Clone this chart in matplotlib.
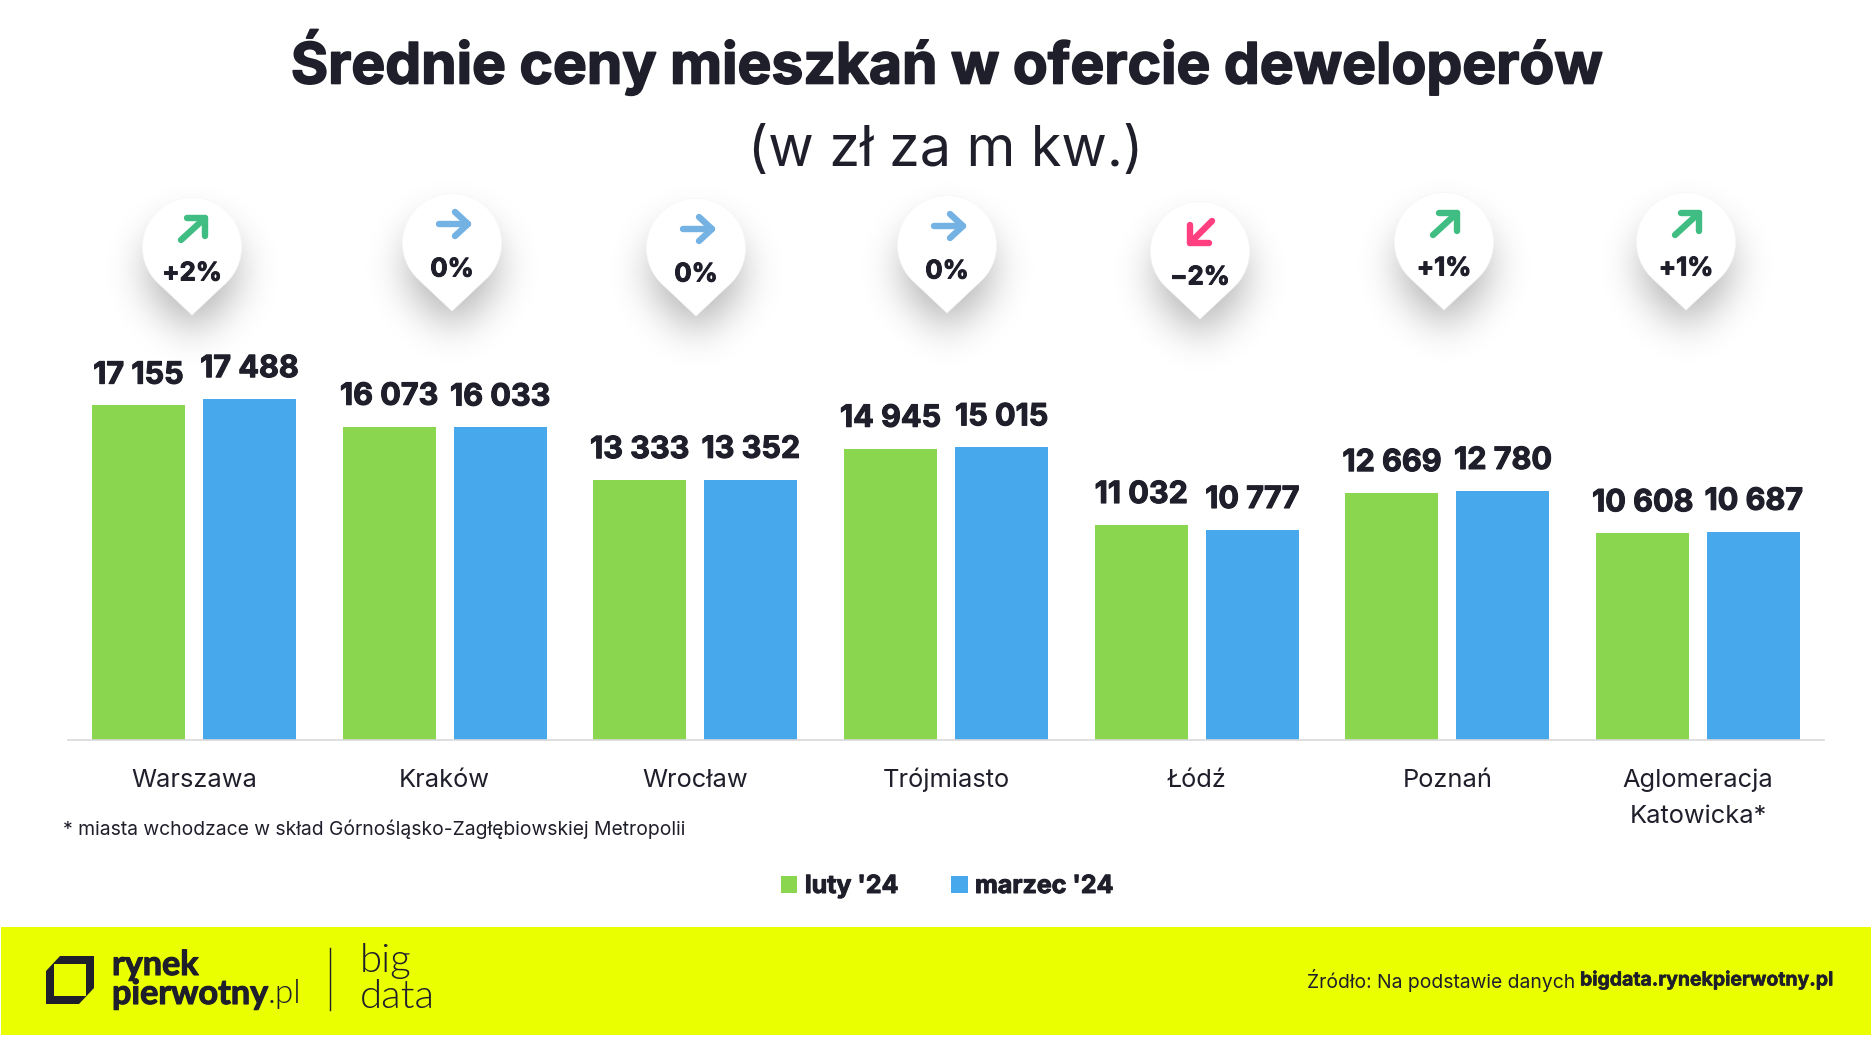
import numpy as np
import matplotlib
matplotlib.use("Agg")
import matplotlib.pyplot as plt
import matplotlib.patheffects as pe
from matplotlib.path import Path
from matplotlib.patches import PathPatch, Rectangle, Polygon
from matplotlib.transforms import ScaledTranslation

W, H = 1871, 1039
DARK = "#1F1F2B"
GREEN = "#8AD64E"
BLUE = "#47A9EC"
FONT = ["Inter", "DejaVu Sans"]
plt.rcParams["font.family"] = FONT

cities = ["Warszawa", "Kraków", "Wrocław", "Trójmiasto", "Łódź", "Poznań", "Aglomeracja\nKatowicka*"]
luty = [17155, 16073, 13333, 14945, 11032, 12669, 10608]
marzec = [17488, 16033, 13352, 15015, 10777, 12780, 10687]
changes = ["+2%", "0%", "0%", "0%", "−2%", "+1%", "+1%"]
directions = ["up", "flat", "flat", "flat", "down", "up", "up"]
series_names = ["luty '24", "marzec '24"]

pin_tips = [(192, 315), (452, 311), (696, 316), (947, 313), (1200, 319), (1444, 310), (1686, 310)]


def heavy(w):
    return [pe.withStroke(linewidth=w, foreground=DARK)]


fig = plt.figure(figsize=(W / 100, H / 100), dpi=100, facecolor="white")

bg = fig.add_axes([0, 0, 1, 1], zorder=0)
bg.axis("off")


def tear(tx, ty, r=49.5, d=68):
    a = np.arccos(r / d)
    th = np.linspace(np.pi / 2 + a, np.pi / 2 + 2 * np.pi - a, 90)
    xs = tx + r * np.cos(th)
    ys = ty - d + r * np.sin(th)
    return np.column_stack([np.r_[tx, xs, tx], np.r_[ty, ys, ty]])


def blur(img, s):
    k = np.exp(-0.5 * (np.arange(-3 * s, 3 * s + 1) / s) ** 2)
    k /= k.sum()
    img = np.apply_along_axis(lambda v: np.convolve(v, k, mode="same"), 0, img)
    return np.apply_along_axis(lambda v: np.convolve(v, k, mode="same"), 1, img)


for tx, ty in pin_tips:
    x0, x1, y0, y1 = tx - 130, tx + 130, ty - 170, ty + 90
    gx, gy = np.meshgrid(np.arange(x0, x1), np.arange(y0, y1))
    pts = np.column_stack([gx.ravel(), gy.ravel()])
    mask = Path(tear(tx, ty + 18, r=46, d=63)).contains_points(pts).reshape(gx.shape).astype(float)
    sh = blur(mask, 20) * 0.30
    rgba = np.zeros(sh.shape + (4,))
    rgba[..., 3] = sh
    bg.imshow(rgba, extent=(x0, x1, y1, y0), aspect="auto", zorder=1, interpolation="bilinear")
    bg.add_patch(Polygon(tear(tx, ty), closed=True, fc="white", ec="#F7F7F7", lw=0.5, zorder=2))

arrow_colors = {"up": "#3FBD82", "flat": "#74B2E4", "down": "#FF3F80"}
for (tx, ty), ch, dr in zip(pin_tips, changes, directions):
    cx, cy = tx + 1, ty - 87
    if dr == "up":
        shaft = [(cx - 12, cy + 12), (cx + 12, cy - 10)]
        head = [(cx - 6, cy - 10), (cx + 12, cy - 10), (cx + 12, cy + 8)]
    elif dr == "down":
        shaft = [(cx + 11, cy - 11), (cx - 11, cy + 11)]
        head = [(cx - 11, cy - 7), (cx - 11, cy + 11), (cx + 8, cy + 11)]
    else:
        shaft = [(cx - 14, cy), (cx + 15, cy)]
        head = [(cx + 2, cy - 12), (cx + 15, cy), (cx + 2, cy + 12)]
    for seg in (shaft, head):
        bg.plot(*zip(*seg), color=arrow_colors[dr], lw=4.6, solid_capstyle="round",
                solid_joinstyle="round", zorder=3)
    bg.text(tx, ty - 41, ch, ha="center", va="center", fontsize=18.5, fontweight="bold", color=DARK, zorder=4,
            path_effects=heavy(0.7))

# titles
bg.text(946, 62, "Średnie ceny mieszkań w ofercie deweloperów", ha="center", va="center",
        fontsize=41, fontweight="bold", color=DARK, path_effects=heavy(1.2))
bg.text(946, 151, "(w zł za m kw.)", ha="center", va="center", fontsize=40, color=DARK)
bg.text(63, 829.5, "* miasta wchodzace w skład Górnośląsko-Zagłębiowskiej Metropolii", ha="left", va="center",
        fontsize=13.9, color=DARK)

# footer
bg.add_patch(Rectangle((1, 927), W, 108, fc="#EAFF00", ec="none"))
logo = Path(
    [(46, 971), (60, 956), (94, 956), (94, 988), (79, 1004), (46, 1004), (46, 971),
     (54, 964), (54, 996), (86, 996), (86, 964), (54, 964)],
    [1, 2, 2, 2, 2, 2, 79, 1, 2, 2, 2, 79],
)
bg.add_patch(PathPatch(logo, fc=DARK, ec="none"))
bg.text(112, 965, "rynek", ha="left", va="center", fontsize=24.6, fontweight="bold", color=DARK, family="Lato",
        path_effects=heavy(0.8))
bg.text(112, 994, "pierwotny", ha="left", va="center", fontsize=24.6, fontweight="bold", color=DARK, family="Lato",
        path_effects=heavy(0.8))
bg.text(268, 994, ".pl", ha="left", va="center", fontsize=24, fontweight=300, color=DARK, family="Lato")
bg.plot([330, 330], [948, 1010], color=DARK, lw=1)
bg.text(360, 979, "big\ndata", ha="left", va="center", fontsize=29, fontweight=300, color=DARK, family="Lato",
        linespacing=1.0)
bg.text(1575, 980, "Źródło: Na podstawie danych", ha="right", va="center", fontsize=13.9, color=DARK)
bg.text(1834, 980, "bigdata.rynekpierwotny.pl", ha="right", va="center", fontsize=14, fontweight="bold", color=DARK,
        path_effects=heavy(0.4))
bg.set_xlim(0, W)
bg.set_ylim(H, 0)

# chart
ax = fig.add_axes([68.5 / W, (H - 740) / H, 1755 / W, 390 / H], zorder=1)
ax.patch.set_alpha(0)
x = np.arange(len(cities))
off, bw = 0.2215, 0.371
b1 = ax.bar(x - off, luty, bw, color=GREEN, label=series_names[0])
b2 = ax.bar(x + off, marzec, bw, color=BLUE, label=series_names[1])
for bars in (b1, b2):
    for r in bars:
        v = int(r.get_height())
        ax.annotate(f"{v:,}".replace(",", " "), (r.get_x() + r.get_width() / 2, v), xytext=(0, 21.5),
                    textcoords="offset points", ha="center", va="center",
                    fontsize=22, fontweight="bold", color=DARK, path_effects=heavy(0.8))
ax.set_xlim(-0.5, 6.5)
ax.set_ylim(0, 20000)
ax.set_yticks([])
ax.set_xticks(x, cities)
ax.tick_params(axis="x", length=0, pad=33.5, labelsize=18.3, labelcolor=DARK)
for t in ax.get_xticklabels():
    t.set_verticalalignment("baseline")
    t.set_linespacing(1.72)
    if "\n" in t.get_text():
        # baseline alignment uses the last line: drop the two-line label by one line
        t.set_transform(t.get_transform() + ScaledTranslation(0, -0.36, fig.dpi_scale_trans))
for s in ("top", "left", "right"):
    ax.spines[s].set_visible(False)
ax.spines["bottom"].set_color("#D9D9D9")
ax.spines["bottom"].set_linewidth(1.2)

handles = [Rectangle((0, 0), 1, 1, fc=GREEN), Rectangle((0, 0), 1, 1, fc=BLUE)]
leg = fig.legend(handles, series_names, loc="center", bbox_to_anchor=(947 / W, 1 - 886.5 / H), ncol=2,
                 frameon=False, handlelength=0.67, handleheight=0.67, handletextpad=0.3, columnspacing=2.1,
                 prop={"size": 18, "weight": "bold", "family": FONT})
for t in leg.get_texts():
    t.set_color(DARK)
    t.set_path_effects(heavy(0.7))

fig.savefig("out.png", dpi=100, facecolor="white")
